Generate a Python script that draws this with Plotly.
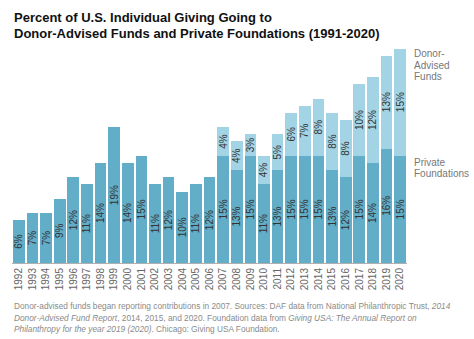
import plotly.graph_objects as go

years = [str(y) for y in range(1992, 2021)]
private_foundations = [6, 7, 7, 9, 12, 11, 14, 19, 14, 15, 11, 12, 10, 11, 12,
                       15, 13, 15, 11, 13, 15, 15, 15, 13, 12, 15, 14, 16, 15]
donor_advised = [None] * 15 + [4, 4, 3, 4, 5, 6, 7, 8, 8, 8, 10, 12, 13, 15]

title_lines = ["Percent of U.S. Individual Giving Going to",
               "Donor-Advised Funds and Private Foundations (1991-2020)"]
footnote_lines = [
    "Donor-advised funds began reporting contributions in 2007. Sources: DAF data from National Philanthropic Trust, <i>2014</i>",
    "<i>Donor-Advised Fund Report</i>, 2014, 2015, and 2020. Foundation data from <i>Giving USA: The Annual Report on</i>",
    "<i>Philanthropy for the year 2019 (2020)</i>. Chicago: Giving USA Foundation.",
]

W, H = 474, 339
PL, PR, PT, PB = 12, 407, 45, 263  # plot area in pixels
FONT = "Liberation Sans, Arial, sans-serif"


def px_x(px):
    return (px - PL) / (PR - PL)


def px_y(py):
    return (PB - py) / (PB - PT)


def pct(vals):
    return [f"{v}%" if v is not None else "" for v in vals]


fig = go.Figure()
fig.add_trace(go.Bar(
    x=years, y=private_foundations, name="Private Foundations",
    marker=dict(color="#62adc8", line=dict(width=0)),
    text=pct(private_foundations), textposition="inside", textangle=-90,
    insidetextanchor="middle", constraintext="none",
    textfont=dict(family=FONT, size=10, color="#333333"),
    hoverinfo="skip",
))
fig.add_trace(go.Bar(
    x=years, y=donor_advised, name="Donor-Advised Funds",
    marker=dict(color="#a2d4e5", line=dict(width=0)),
    text=pct(donor_advised), textposition="inside", textangle=-90,
    insidetextanchor="middle", constraintext="none",
    textfont=dict(family=FONT, size=10, color="#333333"),
    hoverinfo="skip",
))

annotations = []
for i, line in enumerate(title_lines):
    annotations.append(dict(
        text=f"<b>{line}</b>", xref="paper", yref="paper",
        x=px_x(12), y=px_y(17 + i * 16), xanchor="left", yanchor="middle",
        showarrow=False, font=dict(family=FONT, size=13, color="#111111"),
    ))
for i, line in enumerate(["Donor-", "Advised", "Funds"]):
    annotations.append(dict(
        text=line, xref="paper", yref="paper",
        x=px_x(412), y=px_y(54 + i * 11), xanchor="left", yanchor="middle",
        showarrow=False, font=dict(family=FONT, size=10, color="#777777"),
    ))
for i, line in enumerate(["Private", "Foundations"]):
    annotations.append(dict(
        text=line, xref="paper", yref="paper",
        x=px_x(412), y=px_y(162 + i * 11), xanchor="left", yanchor="middle",
        showarrow=False, font=dict(family=FONT, size=10, color="#777777"),
    ))
for i, line in enumerate(footnote_lines):
    annotations.append(dict(
        text=line, xref="paper", yref="paper",
        x=px_x(12), y=px_y(306 + i * 11.5), xanchor="left", yanchor="middle",
        showarrow=False, font=dict(family=FONT, size=8.3, color="#8a8a8a"),
    ))

fig.update_layout(
    width=W, height=H,
    margin=dict(l=PL, r=W - PR, t=PT, b=H - PB, pad=0),
    barmode="stack", bargap=0.14,
    showlegend=False,
    plot_bgcolor="white", paper_bgcolor="white",
    uniformtext=dict(mode=False),
    annotations=annotations,
    xaxis=dict(
        type="category", range=[-0.5, len(years) - 0.5],
        tickangle=-90, ticks="", showgrid=False,
        showline=True, linecolor="#b0b0b0", linewidth=1,
        tickfont=dict(family=FONT, size=10, color="#666666"),
    ),
    yaxis=dict(
        range=[0, (PB - PT) / 7.15], showgrid=False, zeroline=False,
        showticklabels=False, showline=False,
    ),
)

fig.write_html("out.html")
